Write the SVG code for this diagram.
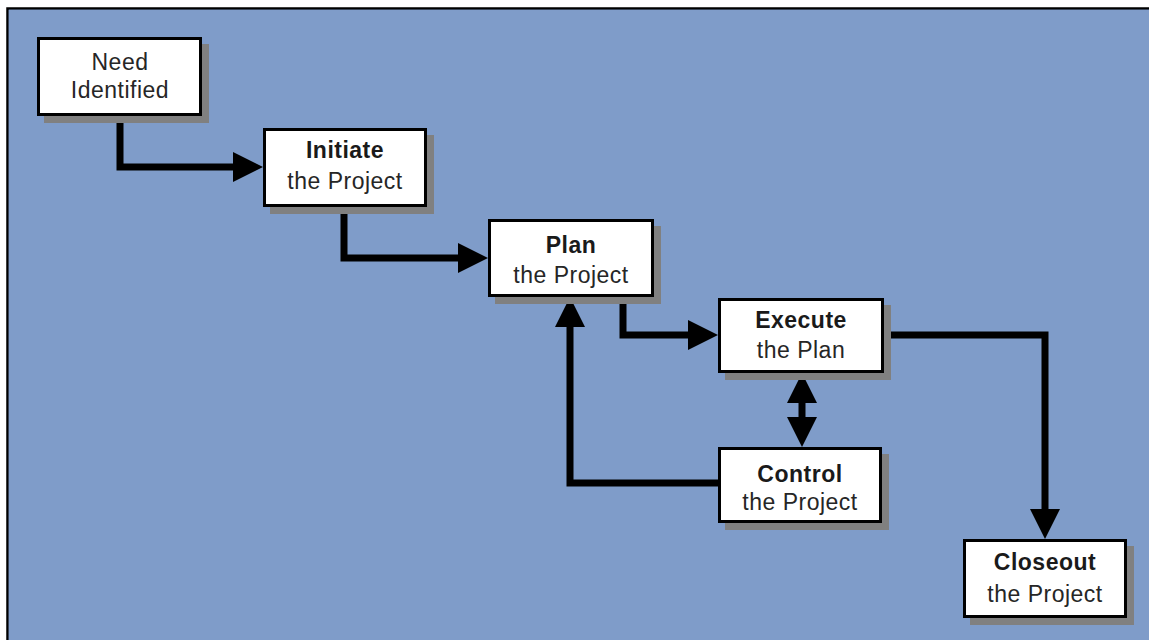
<svg xmlns="http://www.w3.org/2000/svg" width="1149" height="640" viewBox="0 0 1149 640">
<style>
.box{fill:#ffffff;stroke:#000000;stroke-width:3}
.shadow{fill:#808080}
.conn{fill:none;stroke:#000000;stroke-width:7;stroke-linejoin:miter}
.t{font-family:"Liberation Sans",Arial,sans-serif;font-size:23px;text-anchor:middle;letter-spacing:0.5px}
.b{font-weight:bold;fill:#1a1a1a}
.r{fill:#262626}
</style>
<defs>
<marker id="arr" markerUnits="userSpaceOnUse" markerWidth="30" markerHeight="30" refX="0" refY="15" orient="auto-start-reverse" viewBox="0 0 30 30">
<path d="M0,0 L30,15 L0,30 z" fill="#000000"/>
</marker>
</defs>
<rect x="0" y="0" width="1149" height="640" fill="#ffffff"/>
<path d="M7.5,660 V8.5 H1160" fill="#7f9cc9" stroke="#000000" stroke-width="2.5"/>
<rect x="8.75" y="9.75" width="1145" height="640" fill="#7f9cc9"/>
<g id="connectors">
<path class="conn" d="M120,116 V167 H233" marker-end="url(#arr)"/>
<path class="conn" d="M344,207 V258 H458" marker-end="url(#arr)"/>
<path class="conn" d="M623,297 V335 H688" marker-end="url(#arr)"/>
<path class="conn" d="M718,483 H570 V327" marker-end="url(#arr)"/>
<path class="conn" d="M802,403 V417" marker-start="url(#arr)" marker-end="url(#arr)"/>
<path class="conn" d="M884,335 H1045 V509" marker-end="url(#arr)"/>
</g>
<g id="need">
<rect class="shadow" x="44" y="44" width="165" height="79"/>
<rect class="box" x="38.5" y="38.5" width="162" height="76"/>
<text class="t r" x="120" y="70">Need</text>
<text class="t r" x="120" y="98">Identified</text>
</g>
<g id="initiate">
<rect class="shadow" x="270" y="135" width="164" height="79"/>
<rect class="box" x="264.5" y="129.5" width="161" height="76"/>
<text class="t b" x="345" y="158">Initiate</text>
<text class="t r" x="345" y="189">the Project</text>
</g>
<g id="plan">
<rect class="shadow" x="495" y="226" width="166" height="78"/>
<rect class="box" x="489.5" y="220.5" width="163" height="75"/>
<text class="t b" x="571" y="253">Plan</text>
<text class="t r" x="571" y="283">the Project</text>
</g>
<g id="execute">
<rect class="shadow" x="725" y="305" width="166" height="75"/>
<rect class="box" x="719.5" y="299.5" width="163" height="72"/>
<text class="t b" x="801" y="328">Execute</text>
<text class="t r" x="801" y="358">the Plan</text>
</g>
<g id="control">
<rect class="shadow" x="725" y="454" width="164" height="76"/>
<rect class="box" x="719.5" y="448.5" width="161" height="73"/>
<text class="t b" x="800" y="482">Control</text>
<text class="t r" x="800" y="510">the Project</text>
</g>
<g id="closeout">
<rect class="shadow" x="970" y="546" width="164" height="79"/>
<rect class="box" x="964.5" y="540.5" width="161" height="76"/>
<text class="t b" x="1045" y="570">Closeout</text>
<text class="t r" x="1045" y="602">the Project</text>
</g>
</svg>
